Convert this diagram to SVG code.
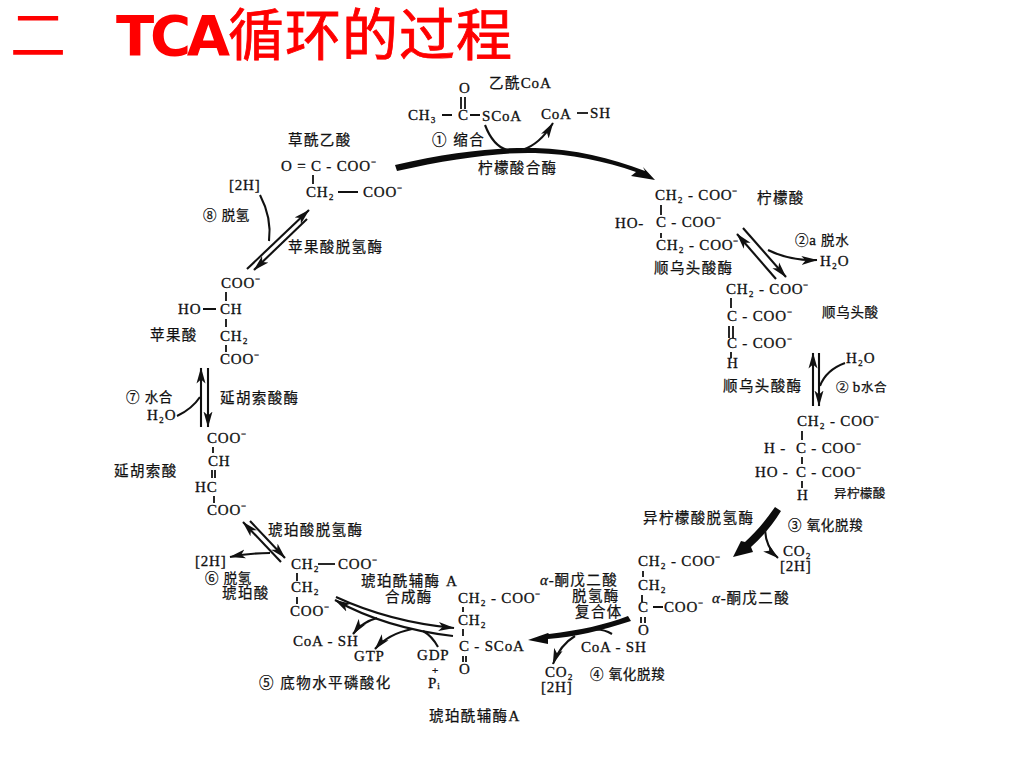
<svg xmlns="http://www.w3.org/2000/svg" width="1024" height="768" viewBox="0 0 1024 768">
<style>
text{fill:#111}
.c{font-family:"Liberation Serif","Noto Sans CJK SC",serif;font-size:15px;letter-spacing:.8px;stroke:#111;stroke-width:.3px}
.z{font-family:"Liberation Sans","Noto Sans CJK SC",sans-serif;font-size:14.5px;letter-spacing:1.4px;stroke:#111;stroke-width:.25px}
.z2{font-size:13.5px;letter-spacing:.7px}
.z3{font-size:12.5px;letter-spacing:.4px}
.p{font-size:11px;letter-spacing:0}
.t{font-family:"Liberation Sans","Noto Sans CJK SC",sans-serif;font-size:56px;fill:#f00;stroke:#f00;stroke-width:.8px}
.n{stroke-width:0}
.l{font-family:"DejaVu Sans",sans-serif;font-size:56px;font-weight:700;fill:#f00;letter-spacing:-4.3px}
.b{stroke:#111;stroke-width:1.8;fill:none}
.a{stroke:#111;stroke-width:2.1;fill:none;marker-end:url(#h)}
.s{stroke:#111;stroke-width:2.1;fill:none}
.k{fill:#0c0c0c;stroke:none}
</style>
<defs>
<marker id="h" markerUnits="userSpaceOnUse" markerWidth="17" markerHeight="10" refX="15.5" refY="5" orient="auto"><path d="M0,0.5 L16,5 L0,9.5 L4,5Z" fill="#111"/></marker>
</defs>
<rect width="1024" height="768" fill="#fff"/>
<g id="title">
<text class="t n" x="10" y="55">二</text>
<text class="l" x="116" y="55">TCA</text>
<text class="t" x="228" y="55" textLength="284">循环的过程</text>
</g>
<g id="connectors">
<path class="k" d="M395,165 C450,152 500,147 535,148 C575,149 610,158 645,171 L643,167 L655,180 L631,176 L636,172 C605,161 570,154 535,153 C500,152 450,159 397,171Z"/>
<path class="s" d="M485,125 C490,138 497,147 507,150"/>
<path class="a" d="M522,150 C535,146 545,136 553,123"/>
<path class="a" d="M743,228 L786,277"/>
<path class="a" d="M776,279 L737,234"/>
<path class="a" d="M768,250 Q790,261 817,260"/>
<path class="a" d="M813,406 L813,353"/>
<path class="a" d="M819,353 L819,406"/>
<path class="s" d="M845,363 Q826,370 820,386"/>
<path class="k" d="M775,507 L781,511 C772,526 762,537 751,547 L753,552 L733,557 L741,541 L745,542 C757,531 766,520 775,507Z"/>
<path class="a" d="M765,530 Q766,548 778,558"/>
<path class="k" d="M628,616 L631,621 C600,631 575,637 548,639 L548,644 L528,640 L548,633 L549,634 C580,630 605,625 628,616Z"/>
<path class="s" d="M612,634 Q602,628 591,630"/>
<path class="a" d="M575,636 Q560,645 553,664"/>
<path class="a" d="M336,597 Q390,622 454,628"/>
<path class="a" d="M453,636 Q385,628 335,600"/>
<path class="a" d="M377,618 Q362,622 353,634"/>
<path class="a" d="M412,629 Q388,634 375,649"/>
<path class="s" d="M438,647 Q432,636 423,631"/>
<path class="a" d="M250,521 L285,558"/>
<path class="a" d="M281,562 L243,522"/>
<path class="a" d="M270,553 Q250,553 230,557"/>
<path class="a" d="M201,427 L201,368"/>
<path class="a" d="M208,368 L208,427"/>
<path class="s" d="M177,416 Q192,409 200,397"/>
<path class="a" d="M247,269 L309,210"/>
<path class="a" d="M307,219 L254,270"/>
<path class="s" d="M260,195 Q272,218 269,241"/>
</g>
<g id="oxaloacetate">
<text class="z" x="288" y="145">草酰乙酸</text>
<text class="c" x="281" y="171">O = C - COO⁻</text>
<path class="b" d="M313,175V184M338,192H358"/>
<text class="c" x="306" y="197">CH₂</text><text class="c" x="363" y="197">COO⁻</text>
</g>
<g id="acetyl-coa">
<text class="z" x="489" y="88">乙酰<tspan class="c">CoA</tspan></text>
<text class="c" x="459" y="93">O</text>
<path class="b" d="M461,97V109M465,97V109M442,115H452M470,115H480"/>
<text class="c" x="408" y="120">CH₃</text><text class="c" x="458" y="120">C</text><text class="c" x="482" y="121">SCoA</text>
</g>
<g id="coa-sh-1">
<text class="c" x="541" y="119">CoA</text><path class="b" d="M577,113H588"/><text class="c" x="590" y="118">SH</text>
</g>
<g id="citrate">
<text class="z" x="757" y="203">柠檬酸</text>
<text class="c" x="655" y="200">CH₂ - COO⁻</text>
<path class="b" d="M661,205V215M661,233V238"/>
<text class="c" x="615" y="228">HO-</text><text class="c" x="656" y="227">C - COO⁻</text>
<text class="c" x="656" y="250">CH₂ - COO⁻</text>
</g>
<g id="aconitate">
<text class="z z2" x="822" y="317">顺乌头酸</text>
<text class="c" x="726" y="294">CH₂ - COO⁻</text>
<path class="b" d="M731,298V308M729,326V338M733,326V338M731,352V358"/>
<text class="c" x="727" y="321">C - COO⁻</text>
<text class="c" x="727" y="348">C - COO⁻</text>
<text class="c" x="727" y="368">H</text>
</g>
<g id="isocitrate">
<text class="z z3" x="834" y="498">异柠檬酸</text>
<text class="c" x="797" y="426">CH₂ - COO⁻</text>
<path class="b" d="M802,431V440M802,457V464M802,481V488"/>
<text class="c" x="764" y="453">H -</text><text class="c" x="796" y="453">C - COO⁻</text>
<text class="c" x="755" y="477">HO -</text><text class="c" x="796" y="477">C - COO⁻</text>
<text class="c" x="797" y="500">H</text>
</g>
<g id="co2-3"><text class="c" x="783" y="556">CO₂</text><text class="c" x="780" y="571">[2H]</text></g>
<g id="ketoglutarate">
<text class="z" x="712" y="603"><tspan class="c" font-style="italic">α-</tspan>酮戊二酸</text>
<text class="c" x="638" y="566">CH₂ - COO⁻</text>
<path class="b" d="M643,571V577M642,595V602M641,617V623M645,617V623M653,607H663"/>
<text class="c" x="638" y="590">CH₂</text>
<text class="c" x="638" y="612">C</text><text class="c" x="664" y="612">COO⁻</text>
<text class="c" x="638" y="635">O</text>
</g>
<g id="succinyl-coa">
<text class="c" x="458" y="603">CH₂ - COO⁻</text>
<path class="b" d="M463,607V612M463,629V636M463,656V662M466,656V662"/>
<text class="c" x="458" y="625">CH₂</text>
<text class="c" x="459" y="651">C - SCoA</text>
<text class="c" x="459" y="674">O</text>
<text class="z" x="429" y="721">琥珀酰辅酶<tspan class="c">A</tspan></text>
</g>
<g id="coa-sh-4"><text class="c" x="581" y="652">CoA - SH</text></g>
<g id="co2-4"><text class="c" x="545" y="677">CO₂</text><text class="c" x="541" y="692">[2H]</text></g>
<g id="succinate">
<text class="z" x="222" y="598">琥珀酸</text>
<text class="c" x="291" y="569">CH₂</text><path class="b" d="M318,564H335"/><text class="c" x="338" y="569">COO⁻</text>
<path class="b" d="M297,573V581M297,597V604"/>
<text class="c" x="291" y="592">CH₂</text>
<text class="c" x="290" y="616">COO⁻</text>
</g>
<g id="h2-6"><text class="c" x="195" y="566">[2H]</text></g>
<g id="coa-sh-5"><text class="c" x="293" y="646">CoA - SH</text></g>
<g id="gtp"><text class="c" x="354" y="661">GTP</text></g>
<g id="gdp"><text class="c" x="417" y="660">GDP</text><text class="c p" x="432" y="673.5">+</text><text class="c" x="428" y="688">Pᵢ</text></g>
<g id="fumarate">
<text class="z" x="114" y="476">延胡索酸</text>
<text class="c" x="207" y="443">COO⁻</text>
<path class="b" d="M213,447V453M212,470V478M215,470V478M214,496V503"/>
<text class="c" x="208" y="466">CH</text>
<text class="c" x="195" y="492">HC</text>
<text class="c" x="207" y="515">COO⁻</text>
</g>
<g id="malate">
<text class="z" x="150" y="340">苹果酸</text>
<text class="c" x="221" y="288">COO⁻</text>
<path class="b" d="M226,292V301M203,309H216M226,319V327M226,345V352"/>
<text class="c" x="178" y="314">HO</text><text class="c" x="220" y="314">CH</text>
<text class="c" x="220" y="341">CH₂</text>
<text class="c" x="220" y="364">COO⁻</text>
</g>
<g id="h2o-7"><text class="c" x="147" y="420">H₂O</text></g>
<g id="h2o-2a"><text class="c" x="820" y="266">H₂O</text></g>
<g id="h2o-2b"><text class="c" x="846" y="363">H₂O</text></g>
<g id="h2-8"><text class="c" x="229" y="190">[2H]</text></g>
<g id="labels">
<text class="z" x="432" y="145">① 缩合</text>
<text class="z" x="478" y="173">柠檬酸合酶</text>
<text class="z z2" x="795" y="245">②<tspan class="c">a</tspan> 脱水</text>
<text class="z" x="654" y="273">顺乌头酸酶</text>
<text class="z" x="723" y="391">顺乌头酸酶</text>
<text class="z z3" x="836" y="392">② <tspan class="c">b</tspan>水合</text>
<text class="z" x="643" y="523">异柠檬酸脱氢酶</text>
<text class="z z2" x="788" y="530">③ 氧化脱羧</text>
<text class="z" x="540" y="585"><tspan class="c" font-style="italic">α-</tspan>酮戊二酸</text>
<text class="z" x="572" y="601">脱氢酶</text>
<text class="z" x="575" y="617">复合体</text>
<text class="z z2" x="590" y="679">④ 氧化脱羧</text>
<text class="z" x="361" y="586">琥珀酰辅酶 <tspan class="c">A</tspan></text>
<text class="z" x="385" y="602">合成酶</text>
<text class="z" x="259" y="688">⑤ 底物水平磷酸化</text>
<text class="z z2" x="205" y="583">⑥ 脱氢</text>
<text class="z" x="268" y="535">琥珀酸脱氢酶</text>
<text class="z z2" x="126" y="402">⑦ 水合</text>
<text class="z" x="220" y="403">延胡索酸酶</text>
<text class="z" x="288" y="252">苹果酸脱氢酶</text>
<text class="z z2" x="203" y="220">⑧ 脱氢</text>
</g>
</svg>
